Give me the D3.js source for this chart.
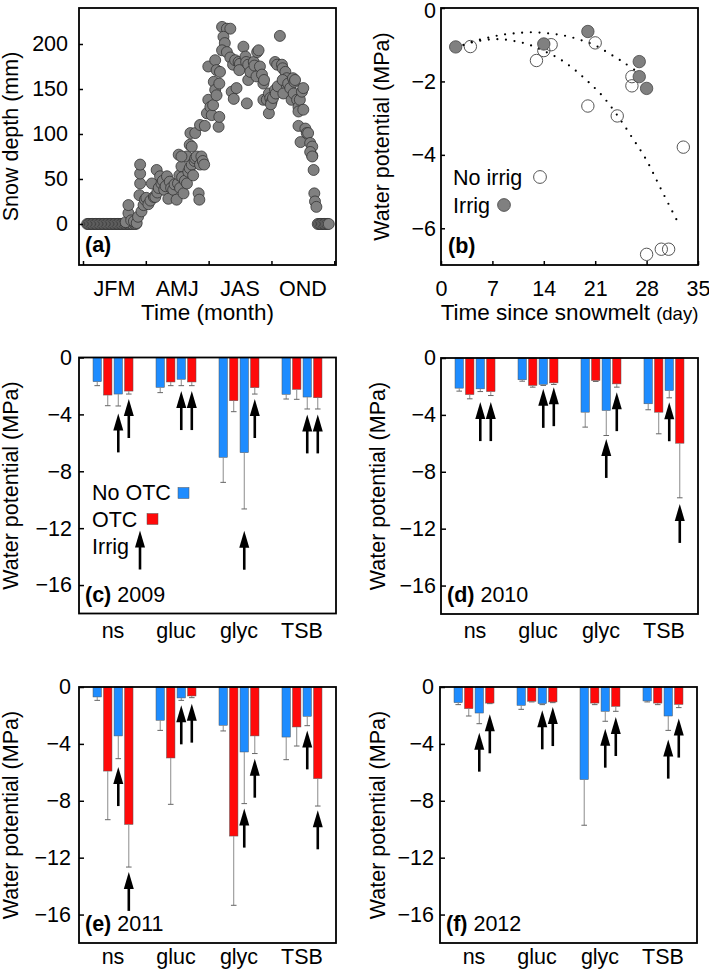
<!DOCTYPE html>
<html>
<head>
<meta charset="utf-8">
<script src="https://d3js.org/d3.v7.min.js"></script>
<style>
  body { margin: 0; background: #fff; }
  text { font-family: "Liberation Sans", Arial, sans-serif; }
</style>
</head>
<body>
<div id="chart"></div>
<script>

// ---------------- data ----------------

// (a) snow depth by day of year [day, mm]
var snowPts = [
  [6,0],[8,0],[10,0],[12,0],[14,0],[16,0],[18,0],[20,0],[22,0],[24,0],[26,0],[28,0],[30,0],[32,0],[34,0],
  [36,0],[38,0],[40,0],[42,0],[44,0],[46,0],[48,0],[50,0],[52,0],[54,0],[56,0],[58,0],[60,0],[62,0],[64,0],
  [66,0],[68,0],[70,0],[72,0],[75,0],[77,0],
  [62,2],[66,12],[66,21],[70,4],[74,3],[78,1],[80,8],[82,32],[83,45],[83,56],[83,66],[85,14],[88,21],[90,27],
  [92,29],[95,22],[98,26],[100,45],[103,30],[105,30],[107,60],[108,35],[110,40],[112,53],[114,45],[116,48],
  [118,38],[120,42],[122,53],[124,28],[126,47],[128,40],[131,38],[133,44],[136,27],[138,45],[140,54],[141,40],
  [143,64],[144,52],[146,34],[148,48],[151,45],[151,75],[153,58],[155,62],[158,66],[160,54],[162,70],[163,73],
  [165,75],[168,34],[169,27],[170,66],[172,75],[174,70],[176,66],
  [139,77],[143,75],[155,88],[158,86],[156,101],[163,101],[170,110],[177,109],[180,123],[182,138],[185,130],
  [187,121],[189,132],[182,175],[192,182],[194,171],[190,158],[192,149],[199,169],[198,156],[194,143],[197,108],
  [198,119],[202,219],[209,217],[214,217],[204,208],[206,201],[202,193],[209,191],[214,185],[218,177],[216,147],
  [219,139],[223,151],[221,182],[226,180],[228,178],[227,171],[233,197],[236,186],[237,180],[238,134],[240,160],
  [240,177],[243,169],[248,180],[249,176],[253,191],[255,193],[252,164],[257,175],[260,166],[262,156],[263,160],
  [262,138],[267,138],[270,145],[272,140],[274,136],[270,123],[273,133],[276,140],[279,149],[280,145],[283,153],
  [286,209],[279,180],[282,177],[289,177],[290,173],[294,169],[296,162],[296,154],[291,145],[290,160],[298,156],
  [301,151],[303,138],[306,145],[305,162],[307,158],[308,160],[311,138],[313,130],[313,125],[315,138],[318,147],
  [320,127],[320,151],[313,109],[316,91],[323,106],[325,101],[327,101],[330,90],[333,86],[333,76],[330,80],
  [333,75],[335,60],[336,34],[337,25],[339,19],
  [341,0],[343,0],[345,0],[347,0],[349,0],[351,0],[353,0],[355,0],[357,0]
];
var quarterTicks = [0, 91.25, 182.5, 273.75, 365];
var quarterLabels = ["JFM", "AMJ", "JAS", "OND"];

// (b) water potential vs time since snowmelt
var irrigDay = [2, 14, 20, 27, 27, 28];
var irrigPsi = [-1.06, -0.98, -0.64, -1.46, -1.87, -2.19];
var noIrrigDay = [4, 13, 14, 15, 21, 26, 26, 20, 24, 33, 28, 30, 31];
var noIrrigPsi = [-1.05, -1.43, -1.16, -1.0, -0.95, -1.87, -2.12, -2.67, -2.94, -3.79, -6.71, -6.57, -6.57];
// dotted trend lines
var irrigFit = [[2,-1.1],[4,-0.93],[6,-0.83],[8,-0.74],[10,-0.69],[12.5,-0.66],[15,-0.7],[17,-0.76],
                [19,-0.87],[21,-1.02],[23,-1.25],[25,-1.5],[26.8,-1.75]];
var noIrrigFit = [[2,-1.1],[4,-0.95],[6,-0.87],[8,-0.85],[10,-0.9],[12,-1.0],[14,-1.17],[16,-1.37],
                  [18,-1.65],[20,-2.0],[22,-2.4],[24,-2.92],[26,-3.52],[28,-4.15],[30,-4.95],[32.5,-5.93]];
var dayTicks = [0, 7, 14, 21, 28, 35];

// (c)-(f) bars: groups x [NoOTC, OTC, NoOTC+irrig, OTC+irrig]
var groups = ["ns", "gluc", "glyc", "TSB"];
var years = ["2009", "2010", "2011", "2012"];
var mean2009 = [[-1.70,-2.64,-2.57,-2.36],[-2.10,-1.72,-1.53,-1.72],[-7.02,-3.04,-6.69,-2.12],[-2.59,-2.24,-2.78,-2.83]];
var se2009   = [[0.28,0.75,0.84,0.21],[0.37,0.26,0.45,0.26],[1.76,0.77,3.96,0.45],[0.33,0.70,0.84,0.79]];
var arrows2009 = [[0,2,-3.93],[0,3,-2.92],[1,2,-2.36],[1,3,-2.36],[2,2,-12.18],[2,3,-2.92],[3,2,-4.0],[3,3,-4.0]];

var mean2010 = [[-2.12,-2.57,-2.17,-2.36],[-1.53,-1.93,-1.86,-1.75],[-3.81,-1.58,-3.69,-1.82],[-3.22,-3.81,-2.29,-5.99]];
var se2010   = [[0.21,0.30,0.19,0.28],[0.10,0.12,0.07,0.11],[1.05,0.07,1.76,0.23],[0.42,1.52,0.51,3.84]];
var arrows2010 = [[0,2,-3.1],[0,3,-3.1],[1,2,-2.17],[1,3,-2.05],[2,2,-5.69],[2,3,-2.40],[3,2,-3.11],[3,3,-10.26]];

var mean2011 = [[-0.70,-5.91,-3.44,-9.66],[-2.34,-4.99,-0.77,-0.63],[-2.69,-10.48,-4.57,-3.44],[-3.52,-2.81,-2.06,-6.44]];
var se2011   = [[0.24,3.42,1.60,3.0],[0.71,3.26,0.17,0.12],[0.40,4.87,3.63,1.24],[1.59,1.34,0.66,1.93]];
var arrows2011 = [[0,2,-5.63],[0,3,-13.0],[1,2,-1.29],[1,3,-1.17],[2,2,-8.55],[2,3,-5.04],[3,2,-3.05],[3,3,-8.67]];

var mean2012 = [[-1.10,-1.52,-1.83,-1.13],[-1.29,-1.0,-1.17,-1.05],[-6.51,-1.13,-1.71,-1.36],[-0.98,-1.13,-2.04,-1.22]];
var se2012   = [[0.14,0.52,0.75,0.04],[0.28,0.05,0.07,0.05],[3.21,0.11,0.70,0.35],[0.07,0.11,1.01,0.23]];
var arrows2012 = [[0,2,-3.21],[0,3,-1.92],[1,2,-1.64],[1,3,-1.41],[2,2,-2.93],[2,3,-2.11],[3,2,-3.7],[3,3,-2.22]];

var psiTicks = [0, -4, -8, -12, -16];

// ---------------- drawing ----------------
var FS = 21.5;
var BLUE = "#1e8cff", RED = "#ff0a0a";
var fmt = d3.format("d");

var svg = d3.select("#chart").append("svg")
    .attr("width", 709).attr("height", 969)
    .style("font-family", "'Liberation Sans', Arial, sans-serif");
svg.append("rect").attr("width", 709).attr("height", 969).attr("fill", "#fff");

function styleAxis(sel) {
    sel.attr("font-size", FS).attr("font-family", null);
    sel.select(".domain").remove();
    sel.selectAll(".tick line").attr("stroke", "#000").attr("stroke-width", 1.5);
    sel.selectAll(".tick text").attr("fill", "#000");
}

function frame(g, w, h) {
    g.append("rect").attr("width", w).attr("height", h)
        .attr("fill", "none").attr("stroke", "#000").attr("stroke-width", 1.8);
}

function yTitle(x, cy, str) {
    svg.append("text")
        .attr("transform", "translate(" + x + "," + cy + ") rotate(-90)")
        .attr("text-anchor", "middle").attr("font-size", FS)
        .text(str);
}

function tag(g, x, y, letter, year) {
    var t = g.append("text").attr("x", x).attr("y", y).attr("font-size", FS);
    t.append("tspan").attr("font-weight", "bold").text("(" + letter + ")");
    if (year) t.append("tspan").text(" " + year);
}

function arrow(g, x, yTip) {
    g.append("line").attr("x1", x).attr("x2", x)
        .attr("y1", yTip + 12).attr("y2", yTip + 39)
        .attr("stroke", "#000").attr("stroke-width", 2.6);
    g.append("path")
        .attr("d", "M" + x + "," + yTip + "L" + (x + 5) + "," + (yTip + 17) + "L" + (x - 5) + "," + (yTip + 17) + "Z")
        .attr("fill", "#000");
}

// ---- (a) snow depth ----
(function () {
    var w = 257, h = 257;
    var g = svg.append("g").attr("transform", "translate(79,8)");
    var x = d3.scaleLinear().domain([-5.8, 367.5]).range([0, w]);
    var y = d3.scaleLinear().domain([-45.6, 240]).range([h, 0]);

    g.selectAll("circle").data(snowPts).enter().append("circle")
        .attr("cx", function (d) { return x(d[0]); })
        .attr("cy", function (d) { return y(d[1]); })
        .attr("r", 5.5)
        .attr("fill", "#808080").attr("stroke", "#333").attr("stroke-width", 0.8);

    g.append("g").call(d3.axisLeft(y).tickValues([0, 50, 100, 150, 200]).tickSize(-4).tickPadding(11))
        .call(styleAxis);
    g.append("g").attr("transform", "translate(0," + h + ")")
        .call(d3.axisBottom(x).tickValues(quarterTicks).tickSize(-4).tickFormat(""))
        .call(styleAxis);
    g.selectAll(".qlab").data(quarterLabels).enter().append("text")
        .attr("x", function (d, i) { return x((quarterTicks[i] + quarterTicks[i + 1]) / 2); })
        .attr("y", h + 31).attr("text-anchor", "middle").attr("font-size", FS)
        .text(function (d) { return d; });

    frame(g, w, h);
    tag(g, 6, h - 13, "a");
    yTitle(18, 8 + h / 2, "Snow depth (mm)");
    svg.append("text").attr("x", 79 + w / 2).attr("y", 320).attr("text-anchor", "middle")
        .attr("font-size", 22.5).text("Time (month)");
})();

// ---- (b) water potential vs time ----
(function () {
    var w = 257, h = 257;
    var g = svg.append("g").attr("transform", "translate(441,8)");
    var x = d3.scaleLinear().domain([0, 35]).range([0, w]);
    var y = d3.scaleLinear().domain([-7, 0]).range([h, 0]);

    var line = d3.line().curve(d3.curveCatmullRom)
        .x(function (d) { return x(d[0]); }).y(function (d) { return y(d[1]); });
    [irrigFit, noIrrigFit].forEach(function (f) {
        g.append("path").attr("d", line(f)).attr("fill", "none")
            .attr("stroke", "#000").attr("stroke-width", 2.2)
            .attr("stroke-linecap", "round").attr("stroke-dasharray", "0,8.6");
    });

    g.selectAll(".open").data(noIrrigDay).enter().append("circle")
        .attr("cx", function (d) { return x(d); })
        .attr("cy", function (d, i) { return y(noIrrigPsi[i]); })
        .attr("r", 6.2).attr("fill", "none").attr("stroke", "#555").attr("stroke-width", 1);
    g.selectAll(".filled").data(irrigDay).enter().append("circle")
        .attr("cx", function (d) { return x(d); })
        .attr("cy", function (d, i) { return y(irrigPsi[i]); })
        .attr("r", 6.2).attr("fill", "#808080").attr("stroke", "#444").attr("stroke-width", 0.8);

    var ya = g.append("g").call(d3.axisLeft(y).tickValues([0, -2, -4, -6]).tickFormat(fmt).tickSize(-4).tickPadding(5))
        .call(styleAxis);
    // keep the top "0" inside the picture
    ya.selectAll(".tick text").filter(function (d) { return d === 0; }).attr("dy", "0.42em");
    g.append("g").attr("transform", "translate(0," + h + ")")
        .call(d3.axisBottom(x).tickValues(dayTicks).tickFormat(fmt).tickSize(-4).tickPadding(16))
        .call(styleAxis);

    // legend
    g.append("text").attr("x", 12).attr("y", 177).attr("font-size", FS).text("No irrig");
    g.append("circle").attr("cx", 99).attr("cy", 169).attr("r", 6.4)
        .attr("fill", "none").attr("stroke", "#555").attr("stroke-width", 1);
    g.append("text").attr("x", 12).attr("y", 205).attr("font-size", FS).text("Irrig");
    g.append("circle").attr("cx", 63).attr("cy", 197).attr("r", 6.4)
        .attr("fill", "#808080").attr("stroke", "#444").attr("stroke-width", 0.8);

    frame(g, w, h);
    tag(g, 7, h - 12, "b");
    yTitle(389, 8 + h / 2, "Water potential (MPa)");
    var t = svg.append("text").attr("x", 441 + w / 2).attr("y", 320).attr("text-anchor", "middle")
        .attr("font-size", 22.5);
    t.append("tspan").text("Time since snowmelt ");
    t.append("tspan").attr("font-size", 18.5).text("(day)");
})();

// ---- (c)-(f) bar panels ----
function barPanel(px, py, means, ses, arrs, letter, year, labGap, titleX, catY, legend) {
    var w = 257, h = 256;
    var g = svg.append("g").attr("transform", "translate(" + px + "," + py + ")");
    var x = d3.scalePoint().domain(groups).range([0, w]).padding(0.54);
    var xi = d3.scaleBand().domain(d3.range(4)).range([-20, 20]).paddingInner(0.2);
    var y = d3.scaleLinear().domain([-18, 0]).range([h, 0]);

    var bars = [];
    groups.forEach(function (gr, i) {
        means[i].forEach(function (m, j) { bars.push({ g: gr, j: j, m: m, se: ses[i][j] }); });
    });

    g.selectAll(".bar").data(bars).enter().append("rect")
        .attr("x", function (d) { return x(d.g) + xi(d.j); })
        .attr("y", y(0))
        .attr("width", xi.bandwidth())
        .attr("height", function (d) { return y(d.m) - y(0); })
        .attr("fill", function (d) { return d.j % 2 ? RED : BLUE; })
        .attr("stroke", "#555").attr("stroke-width", 0.5);

    var eb = g.selectAll(".err").data(bars).enter().append("g");
    eb.append("line")
        .attr("x1", function (d) { return x(d.g) + xi(d.j) + xi.bandwidth() / 2; })
        .attr("x2", function (d) { return x(d.g) + xi(d.j) + xi.bandwidth() / 2; })
        .attr("y1", function (d) { return y(d.m); })
        .attr("y2", function (d) { return y(d.m - d.se); })
        .attr("stroke", "#8c8c8c").attr("stroke-width", 1);
    eb.append("line")
        .attr("x1", function (d) { return x(d.g) + xi(d.j) + xi.bandwidth() / 2 - 2.8; })
        .attr("x2", function (d) { return x(d.g) + xi(d.j) + xi.bandwidth() / 2 + 2.8; })
        .attr("y1", function (d) { return y(d.m - d.se); })
        .attr("y2", function (d) { return y(d.m - d.se); })
        .attr("stroke", "#666").attr("stroke-width", 1);

    arrs.forEach(function (a) {
        arrow(g, x(groups[a[0]]) + xi(a[1]) + xi.bandwidth() / 2, y(a[2]));
    });

    g.append("g").call(d3.axisLeft(y).tickValues(psiTicks).tickFormat(fmt).tickSize(-5).tickPadding(labGap))
        .call(styleAxis);
    g.selectAll(".cat").data(groups).enter().append("text")
        .attr("x", function (d) { return x(d); }).attr("y", h + catY)
        .attr("text-anchor", "middle").attr("font-size", FS)
        .text(function (d) { return d; });

    if (legend) {
        g.append("text").attr("x", 13).attr("y", 142).attr("font-size", FS).text("No OTC");
        g.append("rect").attr("x", 99).attr("y", 130).attr("width", 11).attr("height", 11)
            .attr("fill", BLUE).attr("stroke", "#555").attr("stroke-width", 0.5);
        g.append("text").attr("x", 13).attr("y", 169).attr("font-size", FS).text("OTC");
        g.append("rect").attr("x", 68).attr("y", 156).attr("width", 11).attr("height", 11)
            .attr("fill", RED).attr("stroke", "#555").attr("stroke-width", 0.5);
        g.append("text").attr("x", 13).attr("y", 196).attr("font-size", FS).text("Irrig");
        arrow(g, 61, 173);
    }

    frame(g, w, h);
    tag(g, 6, h - 12, letter, year);
    yTitle(titleX, py + h / 2, "Water potential (MPa)");
}

barPanel(79, 357.5, mean2009, se2009, arrows2009, "c", years[0], 7, 18, 24, true);
barPanel(441, 358, mean2010, se2010, arrows2010, "d", years[1], 5, 385, 24, false);
barPanel(79, 687, mean2011, se2011, arrows2011, "e", years[2], 8, 18, 21, false);
barPanel(440, 687, mean2012, se2012, arrows2012, "f", years[3], 6, 385, 21, false);

</script>
</body>
</html>
